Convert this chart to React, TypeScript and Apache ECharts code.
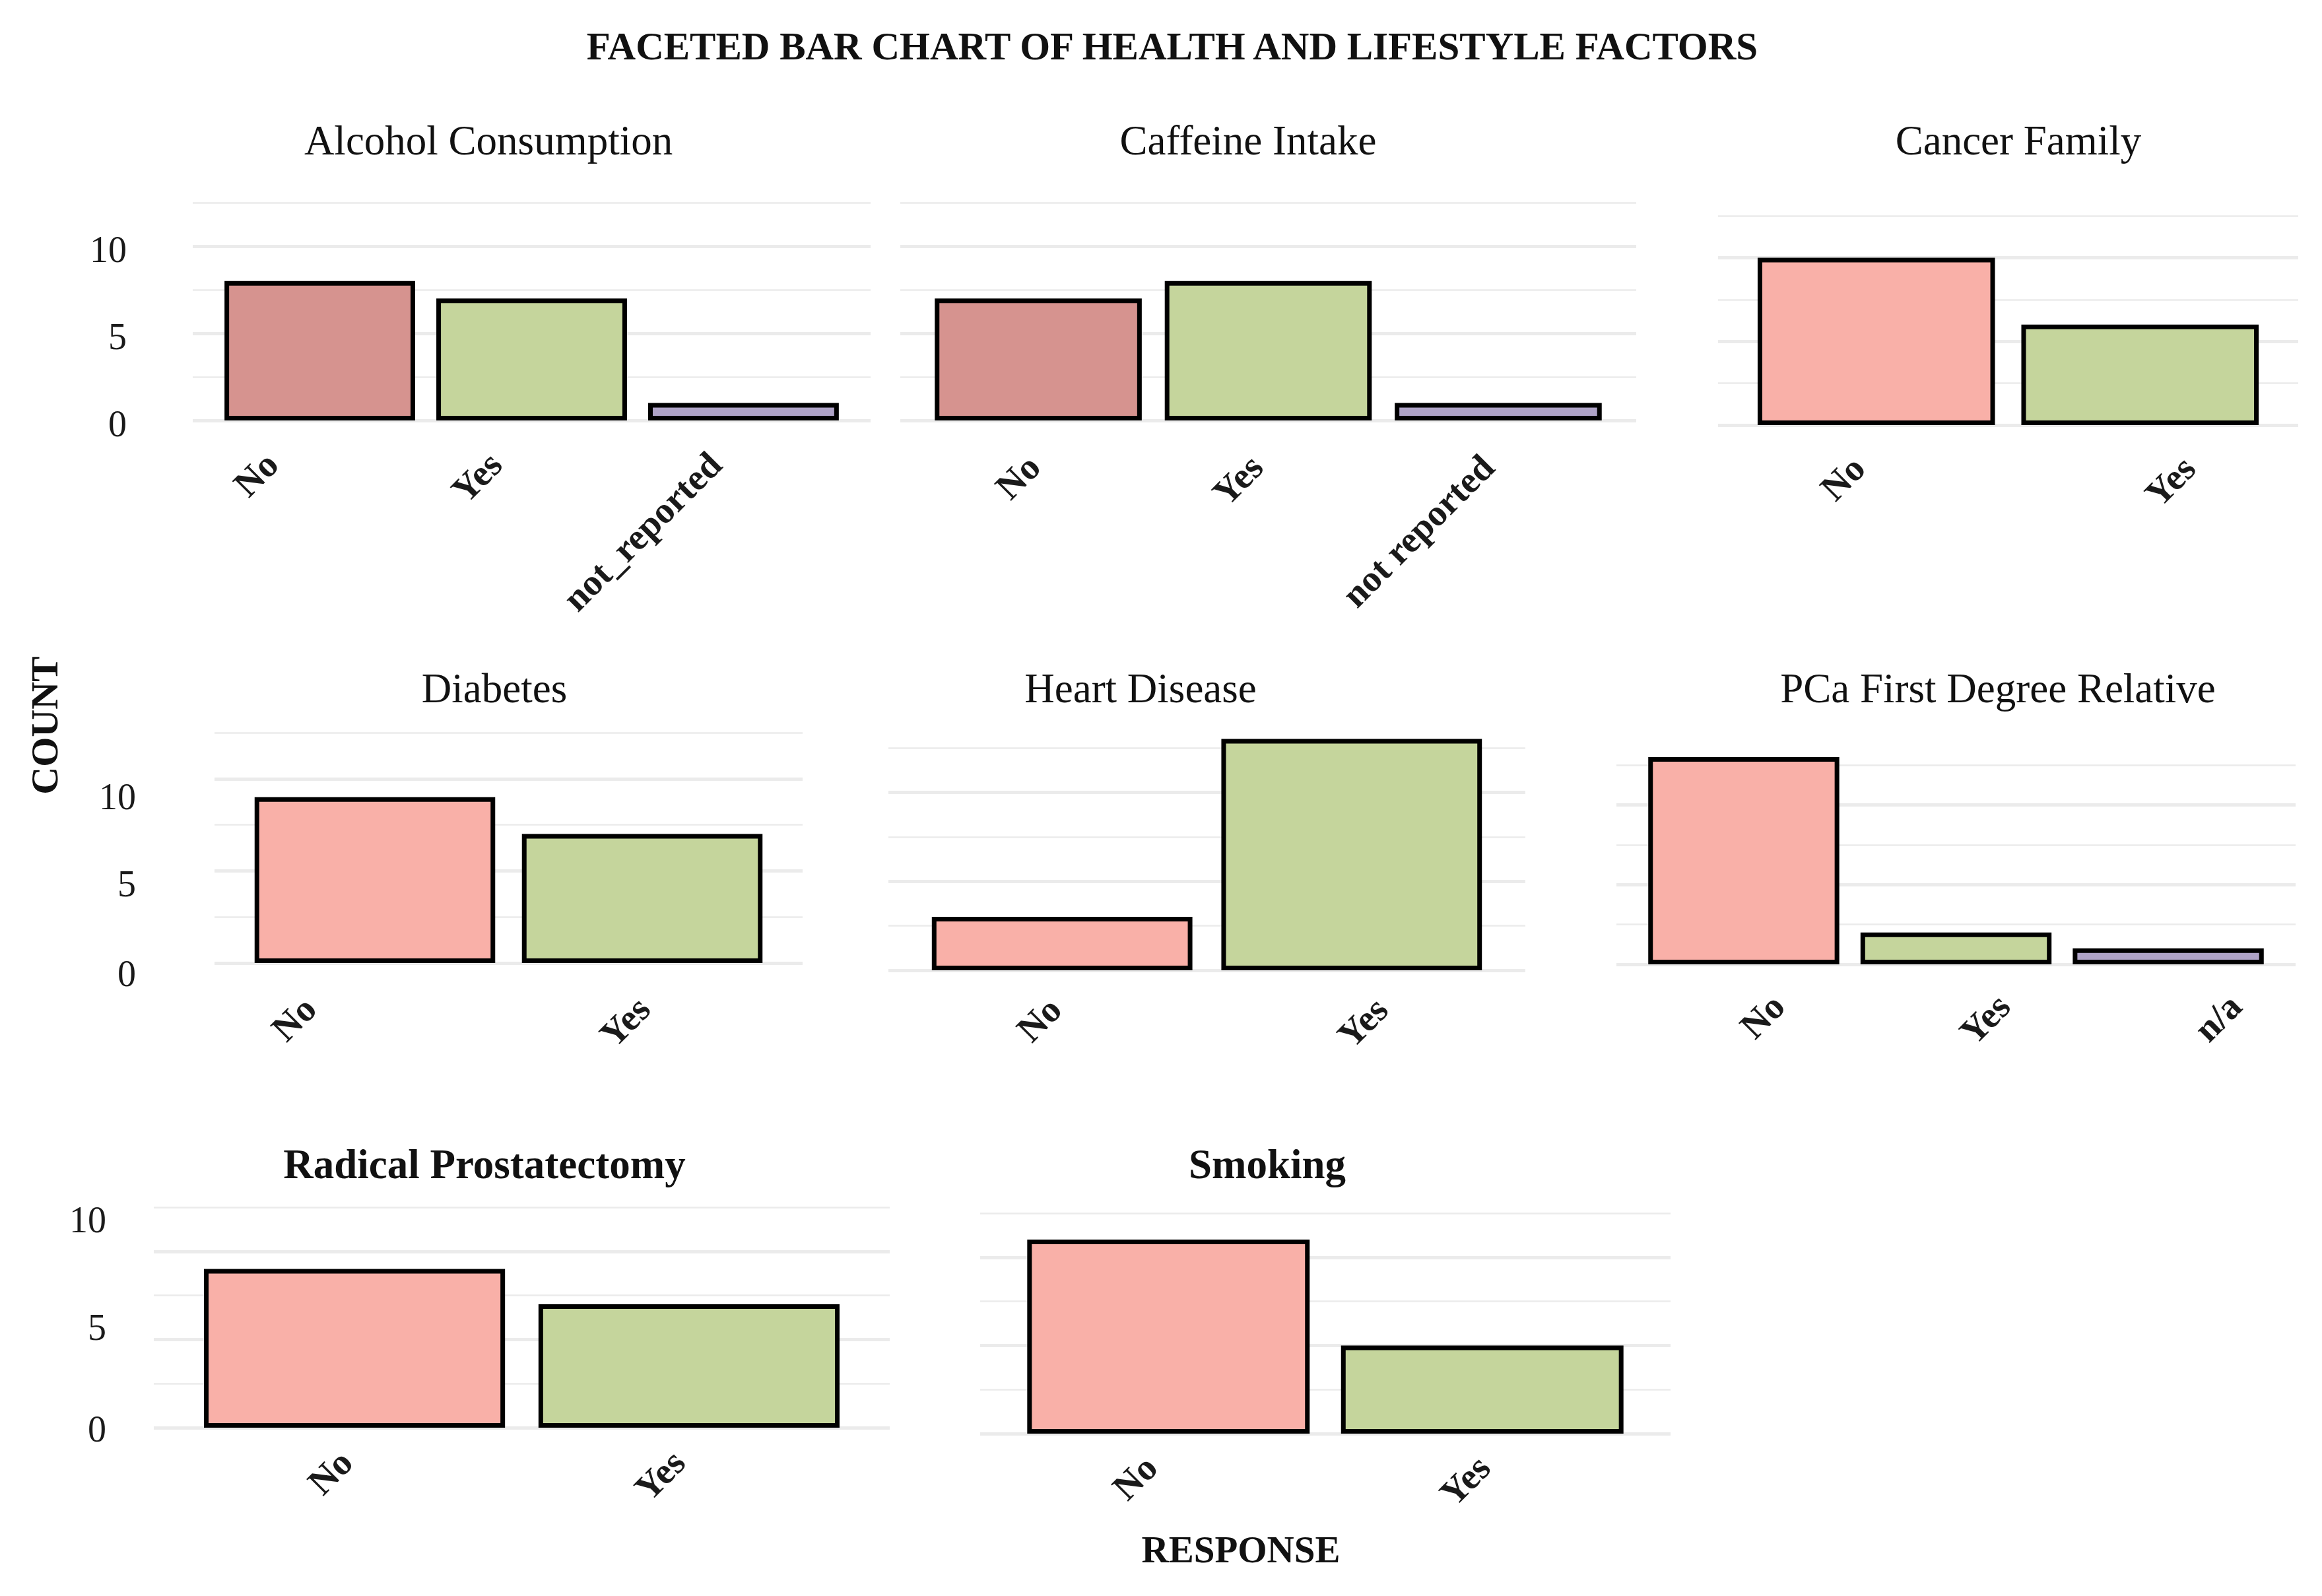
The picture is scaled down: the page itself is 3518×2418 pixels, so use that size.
import React, { useEffect, useRef } from "react";
import * as echarts from "echarts";

// ---------------- data ----------------
const panelTitles = [
  "Alcohol Consumption",
  "Caffeine Intake",
  "Cancer Family",
  "Diabetes",
  "Heart Disease",
  "PCa First Degree Relative",
  "Radical Prostatectomy",
  "Smoking",
];
const alcoholCats = ["No", "Yes", "not_reported"];
const alcoholCounts = [8, 7, 1];
const caffeineCats = ["No", "Yes", "not reported"];
const caffeineCounts = [7, 8, 1];
const cancerCats = ["No", "Yes"];
const cancerCounts = [10, 6];
const diabetesCats = ["No", "Yes"];
const diabetesCounts = [9, 7];
const heartCats = ["No", "Yes"];
const heartCounts = [3, 13];
const pcaCats = ["No", "Yes", "n/a"];
const pcaCounts = [13, 2, 1];
const radicalCats = ["No", "Yes"];
const radicalCounts = [9, 7];
const smokingCats = ["No", "Yes"];
const smokingCounts = [11, 5];
const yTickLabels = [0, 5, 10];

const panelCats = [alcoholCats, caffeineCats, cancerCats, diabetesCats, heartCats, pcaCats, radicalCats, smokingCats];
const panelCounts = [alcoholCounts, caffeineCounts, cancerCounts, diabetesCounts, heartCounts, pcaCounts, radicalCounts, smokingCounts];

// ---------------- layout / style ----------------
const W = 3518;
const H = 2418;
const FONT = "'Liberation Serif', 'DejaVu Serif', serif";
// lox / loy: screen offset of each rotated tick label's end point from (tick, panel bottom)
// ysh: vertical nudge of the y tick labels (for 0, 5, 10)
const layout = [
  { left: 292, top: 307, width: 1027, height: 330, tx: 740, ty: 213, bold: false, showY: true, yMargin: 100, ysh: [5, 5, 5], lox: [-73, -55, -43], loy: 57 },
  { left: 1364, top: 307, width: 1115, height: 330, tx: 1891, ty: 213, bold: false, showY: false, yMargin: 0, ysh: [0, 0, 0], lox: [-7, -18, -16], loy: 61 },
  { left: 2603, top: 327, width: 879, height: 317, tx: 3058, ty: 213, bold: false, showY: false, yMargin: 0, ysh: [0, 0, 0], lox: [-27, 74], loy: 56 },
  { left: 325, top: 1110, width: 891, height: 349, tx: 749, ty: 1043, bold: false, showY: true, yMargin: 119, ysh: [16, 20, 27], lox: [-99, 2], loy: 60 },
  { left: 1346, top: 1133, width: 965, height: 337, tx: 1728, ty: 1043, bold: false, showY: false, yMargin: 0, ysh: [0, 0, 0], lox: [-11, 45], loy: 50 },
  { left: 2449, top: 1159, width: 1029, height: 302, tx: 3027, ty: 1043, bold: false, showY: false, yMargin: 0, ysh: [0, 0, 0], lox: [52, 72, 101], loy: 54 },
  { left: 233, top: 1829, width: 1115, height: 334, tx: 734, ty: 1764, bold: true, showY: true, yMargin: 72, ysh: [2, -18, -48], lox: [-13, -16], loy: 43 },
  { left: 1485, top: 1838, width: 1046, height: 334, tx: 1920, ty: 1764, bold: true, showY: false, yMargin: 0, ysh: [0, 0, 0], lox: [-27, 2], loy: 42 },
];
const COLOR_NO_DARK = "#D6938F";
const COLOR_NO = "#F9B0A8";
const COLOR_YES = "#C5D59C";
const COLOR_OTHER = "#AFA3C7";
const GRID_COLOR = "#EBEBEB";
const LABEL_FONT_SIZE = 56;

function barColor(panel: number, k: number) {
  if (k === 0) return panel < 2 ? COLOR_NO_DARK : COLOR_NO;
  if (k === 1) return COLOR_YES;
  return COLOR_OTHER;
}

export default function App() {
  const ref = useRef<HTMLDivElement>(null);
  useEffect(() => {
    if (!ref.current) return;
    const chart = echarts.init(ref.current, undefined, { renderer: "svg" });

    const grid: any[] = [];
    const xAxis: any[] = [];
    const yAxis: any[] = [];
    const series: any[] = [];
    const graphic: any[] = [];
    const R = Math.SQRT2;

    layout.forEach((L, i) => {
      const cats = panelCats[i];
      const counts = panelCounts[i];
      const n = cats.length;
      grid.push({ left: L.left, top: L.top, width: L.width, height: L.height, containLabel: false });

      // per-label offsets via rich padding (rotated 45deg)
      const margin = Math.min(...L.lox.map((ox) => L.loy - ox)) - 2;
      const rich: any = {};
      cats.forEach((_, k) => {
        const dx = L.lox[k];
        const dy = L.loy - margin;
        const pr = Math.max(0, (dy - dx) / R);
        const s = (dx + dy) / R;
        const pt = s > 0 ? 2 * s : 0;
        const pb = s < 0 ? -2 * s : 0;
        rich["t" + k] = {
          fontSize: LABEL_FONT_SIZE,
          fontWeight: "bold",
          fontFamily: FONT,
          color: "#1a1a1a",
          padding: [pt, pr, pb, 0],
        };
      });

      const yRich: any = {};
      yTickLabels.forEach((t, k) => {
        const s = L.ysh[k];
        yRich["y" + t] = {
          fontSize: 56,
          fontFamily: FONT,
          color: "#1a1a1a",
          padding: [s > 0 ? 2 * s : 0, 0, s < 0 ? -2 * s : 0, 0],
        };
      });

      xAxis.push({
        gridIndex: i,
        type: "value",
        min: 0.4,
        max: n + 0.6,
        splitLine: { show: false },
        axisLine: { show: false },
        axisTick: { show: false },
        axisLabel: {
          customValues: cats.map((_, k) => k + 1),
          formatter: (v: number) => {
            const k = Math.round(v) - 1;
            return cats[k] !== undefined ? `{t${k}|${cats[k]}}` : "";
          },
          rotate: 45,
          fontSize: LABEL_FONT_SIZE,
          fontWeight: "bold",
          fontFamily: FONT,
          color: "#1a1a1a",
          margin,
          rich,
        },
      });
      // minor grid lines
      yAxis.push({
        gridIndex: i,
        type: "value",
        position: "left",
        min: 0,
        max: 12.5,
        interval: 2.5,
        axisLine: { show: false },
        axisTick: { show: false },
        axisLabel: { show: false },
        splitLine: { show: true, lineStyle: { color: GRID_COLOR, width: 2.5 } },
      });
      // major grid lines + labels
      yAxis.push({
        gridIndex: i,
        type: "value",
        position: "left",
        min: 0,
        max: 12.5,
        interval: 5,
        axisLine: { show: false },
        axisTick: { show: false },
        splitLine: { show: true, showMaxLine: false, lineStyle: { color: GRID_COLOR, width: 5 } },
        axisLabel: {
          show: L.showY,
          showMaxLabel: false,
          formatter: (v: number) => (yTickLabels.includes(v) ? `{y${v}|${v}}` : ""),
          fontSize: 56,
          fontFamily: FONT,
          color: "#1a1a1a",
          margin: L.yMargin,
          rich: yRich,
        },
      });
      series.push({
        type: "bar",
        xAxisIndex: i,
        yAxisIndex: 2 * i,
        clip: false,
        barWidth: (L.width / (n + 0.2)) * 0.9,
        itemStyle: { borderColor: "#000", borderWidth: 7 },
        z: 3,
        data: counts.map((v, k) => ({ value: [k + 1, v], itemStyle: { color: barColor(i, k) } })),
      });
      graphic.push({
        type: "text",
        x: L.tx,
        y: L.ty,
        style: {
          text: panelTitles[i],
          fill: "#111",
          font: `${L.bold ? "bold " : ""}63px ${FONT}`,
          textAlign: "center",
          textVerticalAlign: "middle",
          align: "center",
          verticalAlign: "middle",
        },
      });
    });

    graphic.push({
      type: "text",
      x: 1776,
      y: 70,
      style: {
        text: "FACETED BAR CHART OF HEALTH AND LIFESTYLE FACTORS",
        fill: "#111",
        font: `bold 59px ${FONT}`,
        textAlign: "center",
        textVerticalAlign: "middle",
        align: "center",
        verticalAlign: "middle",
      },
    });
    graphic.push({
      type: "text",
      x: 67,
      y: 1099,
      rotation: Math.PI / 2,
      style: {
        text: "COUNT",
        fill: "#111",
        font: `bold 58px ${FONT}`,
        textAlign: "center",
        textVerticalAlign: "middle",
        align: "center",
        verticalAlign: "middle",
      },
    });
    graphic.push({
      type: "text",
      x: 1880,
      y: 2347,
      style: {
        text: "RESPONSE",
        fill: "#111",
        font: `bold 57px ${FONT}`,
        textAlign: "center",
        textVerticalAlign: "middle",
        align: "center",
        verticalAlign: "middle",
      },
    });

    chart.setOption({
      animation: false,
      backgroundColor: "#ffffff",
      grid,
      xAxis,
      yAxis,
      series,
      graphic,
    });
    return () => chart.dispose();
  }, []);
  return <div ref={ref} style={{ position: "absolute", left: 0, top: 0, width: W, height: H }} />;
}
